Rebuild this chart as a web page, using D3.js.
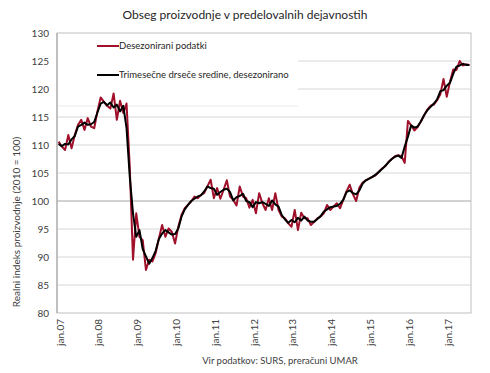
<!DOCTYPE html>
<html>
<head>
<meta charset="utf-8">
<title>Obseg proizvodnje</title>
<script src="https://d3js.org/d3.v7.min.js"></script>
<style>
	*{ margin:0; padding:0; }
	body{ background:#fff; }
	svg{ font-family: Lato, "Open Sans", sans-serif; }
</style>
</head>
<body>
<svg id="chart" width="490" height="373"></svg>
<script>
	// monthly data, jan.07 - avg.17
	var yearLabels = ["jan.07","jan.08","jan.09","jan.10","jan.11","jan.12","jan.13","jan.14","jan.15","jan.16","jan.17"];
	var yTicks = [80,85,90,95,100,105,110,115,120,125,130];

	var desezonirani = [
		110.6,109.7,109.1,111.8,109.4,111.8,113.6,114.5,112.7,114.8,113.3,113.0,
		116.0,118.5,117.7,117.0,116.5,119.2,114.5,117.9,115.7,117.4,106.0,89.5,
		97.8,93.6,93.0,87.7,89.5,89.2,90.7,93.3,95.7,93.6,95.1,94.5,
		92.4,95.4,97.5,98.7,99.3,99.9,100.8,100.5,101.1,101.4,102.6,103.8,
		100.5,102.3,100.4,102.0,103.7,100.8,100.2,99.2,102.6,100.8,100.5,98.8,
		100.2,97.8,101.4,99.6,98.4,100.5,98.4,101.4,98.4,97.2,96.9,96.0,
		95.4,98.4,94.8,97.9,96.9,96.9,95.7,96.3,96.9,97.2,97.8,99.3,
		98.4,99.0,99.6,98.7,100.2,101.7,102.9,101.2,100.0,102.4,103.3,103.7,
		104.0,104.3,104.6,105.2,105.8,106.2,107.0,107.5,108.0,108.2,108.0,106.8,
		114.3,113.5,112.6,113.2,114.2,115.3,116.3,117.0,117.2,118.0,119.0,121.8,
		118.6,121.3,123.5,123.4,125.0,124.2,124.4,124.3
	];

	var drseceSredine = [
		110.2,109.8,110.2,110.1,111.0,111.6,113.3,113.6,114.0,113.6,113.7,114.1,
		115.8,117.4,117.7,117.1,117.6,116.7,117.2,116.0,117.0,113.0,104.3,97.8,
		93.6,94.8,91.4,90.1,88.8,89.8,91.1,93.2,94.2,94.8,94.4,94.0,
		94.1,95.1,97.2,98.5,99.3,100.0,100.4,100.8,101.0,101.7,102.6,102.3,
		102.2,101.1,101.6,102.0,102.2,101.6,100.1,100.7,100.9,101.3,100.0,99.8,
		98.9,99.8,99.6,99.8,99.5,99.1,100.1,99.4,99.0,97.5,96.7,96.1,
		96.6,96.2,97.0,96.5,97.2,96.5,96.3,96.3,96.8,97.3,98.1,98.5,
		98.9,99.0,99.1,99.5,100.2,101.6,101.9,101.4,101.2,101.9,103.1,103.7,
		104.0,104.3,104.7,105.2,105.7,106.3,106.9,107.5,107.9,108.1,107.7,109.7,
		111.5,113.5,113.1,113.3,114.2,115.3,116.2,116.8,117.4,118.1,119.6,119.8,
		120.6,121.1,122.7,124.0,124.2,124.5,124.3,124.3
	];

	var svg = d3.select("#chart");
	var pLeft = 57, pRight = 471, pTop = 33, pBottom = 313;

	var x = d3.scaleLinear().domain([0, 128]).range([pLeft, pRight]);
	var y = d3.scaleLinear().domain([80, 130]).range([pBottom, pTop]);

	// gridlines
	svg.append("g").selectAll("line")
		.data(yTicks.filter(function(d){ return d > 80 && d < 130; }))
		.enter().append("line")
		.attr("x1", pLeft).attr("x2", pRight)
		.attr("y1", function(d){ return y(d); })
		.attr("y2", function(d){ return y(d); })
		.attr("stroke", function(d){ return d == 100 ? "#a6a6a6" : "#e4e4e4"; })
		.attr("stroke-width", function(d){ return d == 100 ? 1 : 1.3; });

	// plot border
	svg.append("rect")
		.attr("x", pLeft).attr("y", pTop)
		.attr("width", pRight - pLeft).attr("height", pBottom - pTop)
		.attr("fill", "none").attr("stroke", "#bfbfbf").attr("stroke-width", 1);
	svg.append("line")
		.attr("x1", pLeft).attr("x2", pLeft).attr("y1", pTop).attr("y2", pBottom)
		.attr("stroke", "#a0a0a0");

	// y axis labels
	var yAxis = d3.axisLeft(y).tickValues(yTicks).tickSize(0).tickPadding(8);
	var ga = svg.append("g").attr("transform", "translate(" + pLeft + ",0)").call(yAxis);
	ga.select(".domain").remove();
	ga.selectAll("text").attr("font-size", 10).attr("fill", "#404040")
		.style("font-family", "Lato, sans-serif");

	// legend box
	svg.append("rect")
		.attr("x", pLeft + 1).attr("y", pTop + 1)
		.attr("width", 240).attr("height", 72)
		.attr("fill", "#fff");
	svg.append("line")
		.attr("x1", pLeft + 1).attr("x2", pLeft + 241)
		.attr("y1", pTop + 73).attr("y2", pTop + 73)
		.attr("stroke", "#e8e8e8");

	var line = d3.line()
		.x(function(d, i){ return x(i + 0.5); })
		.y(function(d){ return y(d); });

	svg.append("path").datum(desezonirani)
		.attr("d", line)
		.attr("fill", "none").attr("stroke", "#a0102a")
		.attr("stroke-width", 2).attr("stroke-linejoin", "round");

	svg.append("path").datum(drseceSredine)
		.attr("d", line)
		.attr("fill", "none").attr("stroke", "#000")
		.attr("stroke-width", 2).attr("stroke-linejoin", "round");

	// legend items
	var legend = [
		{name: "Desezonirani podatki", color: "#a0102a", y: 46},
		{name: "Trimesečne drseče sredine, desezonirano", color: "#000", y: 75}
	];
	var lg = svg.append("g").selectAll("g").data(legend).enter().append("g");
	lg.append("line")
		.attr("x1", 97).attr("x2", 119)
		.attr("y1", function(d){ return d.y; }).attr("y2", function(d){ return d.y; })
		.attr("stroke", function(d){ return d.color; }).attr("stroke-width", 2);
	lg.append("text")
		.attr("x", 119).attr("y", function(d){ return d.y; })
		.attr("dy", "0.35em")
		.attr("font-size", 9.5).attr("fill", "#262626")
		.text(function(d){ return d.name; });

	// x labels
	svg.append("g").selectAll("text")
		.data(yearLabels)
		.enter().append("text")
		.attr("transform", function(d, i){
			return "translate(" + (x(i * 12 + 0.5) + 1.5) + "," + (pBottom + 6) + ") rotate(-90)";
		})
		.attr("text-anchor", "end")
		.attr("dy", "0.35em")
		.attr("font-size", 10).attr("fill", "#404040")
		.text(function(d){ return d; });

	// title
	svg.append("text")
		.attr("x", 245).attr("y", 19)
		.attr("text-anchor", "middle")
		.attr("font-size", 12).attr("fill", "#262626")
		.text("Obseg proizvodnje v predelovalnih dejavnostih");

	// y title
	svg.append("text")
		.attr("transform", "translate(16,222) rotate(-90)")
		.attr("text-anchor", "middle")
		.attr("dy", "0.35em")
		.attr("font-size", 10).attr("fill", "#404040")
		.text("Realni indeks proizvodnje (2010 = 100)");

	// source
	svg.append("text")
		.attr("x", 280).attr("y", 364)
		.attr("text-anchor", "middle")
		.attr("font-size", 9.5).attr("fill", "#404040")
		.text("Vir podatkov: SURS, preračuni UMAR");
</script>
</body>
</html>
